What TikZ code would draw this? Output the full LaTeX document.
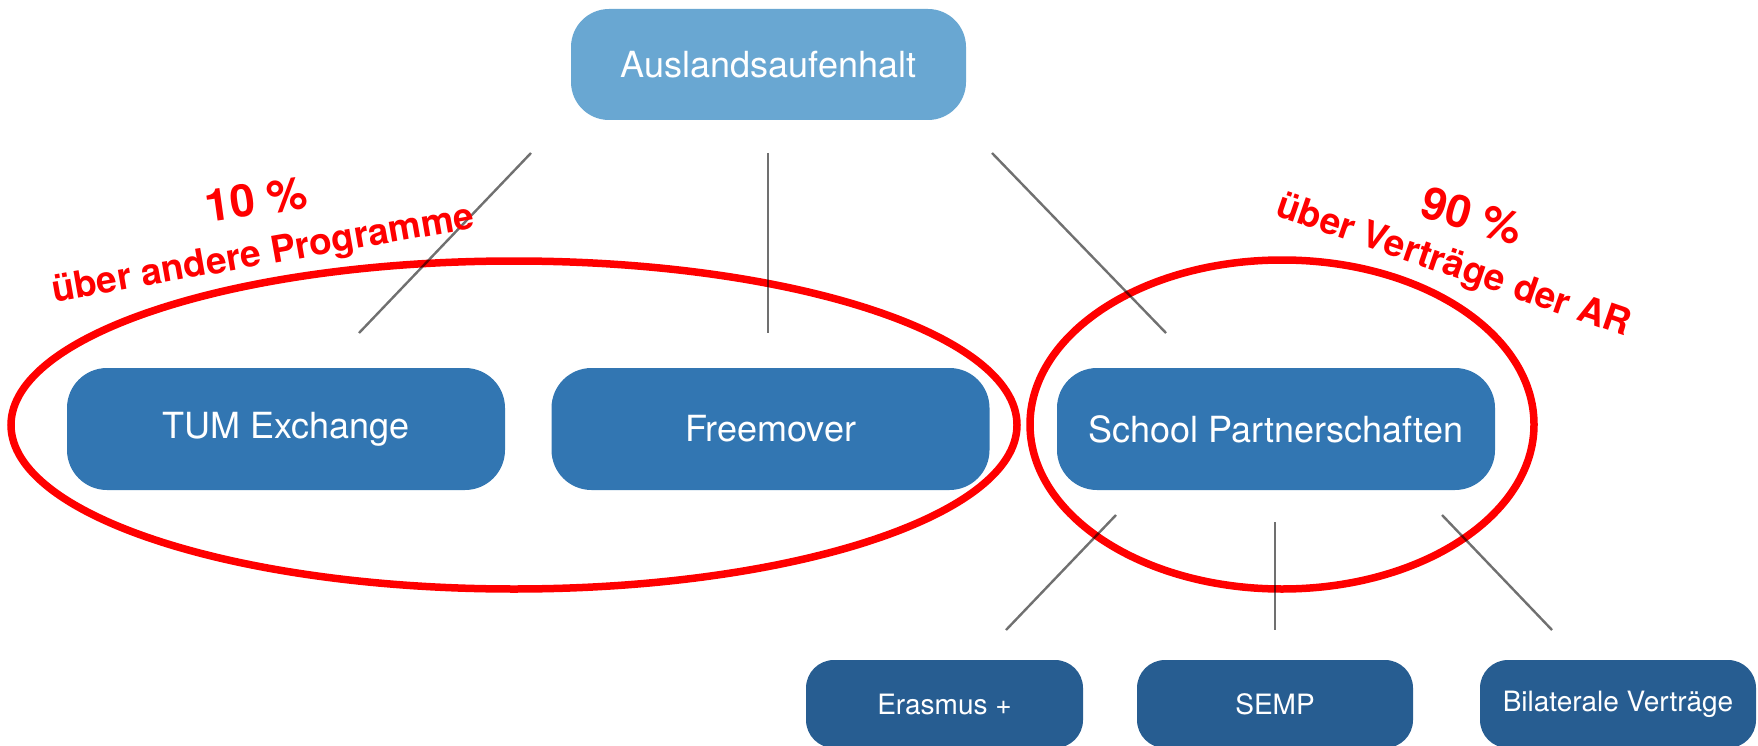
\documentclass[tikz,border=0pt]{standalone}
\usepackage{fontspec}
\setmainfont{TeX Gyre Heros}
\definecolor{boxlight}{RGB}{105,167,210}
\definecolor{boxmid}{RGB}{50,118,178}
\definecolor{boxdark}{RGB}{39,93,145}
\definecolor{markred}{RGB}{255,0,0}
\tikzset{
  topbox/.style={rectangle, rounded corners=38pt, fill=boxlight, text=white, inner sep=0pt,
    minimum width=395pt, minimum height=111pt, font=\fontsize{36}{40}\selectfont},
  midbox/.style={rectangle, rounded corners=40pt, fill=boxmid, text=white, inner sep=0pt,
    minimum width=438pt, minimum height=122pt, font=\fontsize{36}{40}\selectfont},
  lowbox/.style={rectangle, rounded corners=28pt, fill=boxdark, text=white, inner sep=0pt,
    minimum width=276pt, minimum height=88pt, font=\fontsize{28}{32}\selectfont},
  conn/.style={draw=black, draw opacity=0.56, line width=2.4pt},
  ring/.style={draw=markred, line width=7.5pt},
  bigpct/.style={text=markred, inner sep=0pt, anchor=base, font=\bfseries\fontsize{45}{50}\selectfont},
  subpct/.style={text=markred, inner sep=0pt, anchor=base, font=\bfseries\fontsize{37}{42}\selectfont}
}
\begin{document}
\begin{tikzpicture}[x=1pt, y=-1pt]
\useasboundingbox (0,0) rectangle (1758,746);

% boxes
\node[topbox] (aus) at (768.5,64.5) {Auslandsaufenhalt};
\node[midbox] (tum) at (286,429) {TUM Exchange};
\node[midbox] (free) at (770.5,429) {Freemover};
\node[midbox] (school) at (1276,429) {School Partnerschaften};
\node[lowbox, minimum width=277pt] (eras) at (944.5,704) {Erasmus +};
\node[lowbox] (semp) at (1275,704) {SEMP};
\node[lowbox] (bila) at (1618,704) {Bilaterale Verträge};

% red rings
\draw[ring] (514,425) ellipse [x radius=503pt, y radius=164pt];
\draw[ring] (1282,424.5) ellipse [x radius=252pt, y radius=164.5pt];

% connector end points
\coordinate (a1) at (531,153);  \coordinate (t1) at (359,333);
\coordinate (a2) at (768,153);  \coordinate (f1) at (768,333);
\coordinate (a3) at (992,153);  \coordinate (s1) at (1166,333);
\coordinate (s2) at (1116,515); \coordinate (e1) at (1006,630);
\coordinate (s3) at (1275,522); \coordinate (m1) at (1275,630);
\coordinate (s4) at (1442,515); \coordinate (b1) at (1552,630);

\draw[conn] (a1) -- (t1);
\draw[conn] (a2) -- (f1);
\draw[conn] (a3) -- (s1);
\draw[conn] (s2) -- (e1);
\draw[conn] (s3) -- (m1);
\draw[conn] (s4) -- (b1);

% annotations
\node[bigpct, rotate=8] (p10) at (258,215) {10 \%};
\node[subpct, rotate=10] (p10t) at (265,265) {über andere Programme};
\node[bigpct, rotate=-16] (p90) at (1468,231) {90 \%};
\node[subpct, rotate=-19] (p90t) at (1450,276) {über Verträge der AR};
\end{tikzpicture}
\end{document}
